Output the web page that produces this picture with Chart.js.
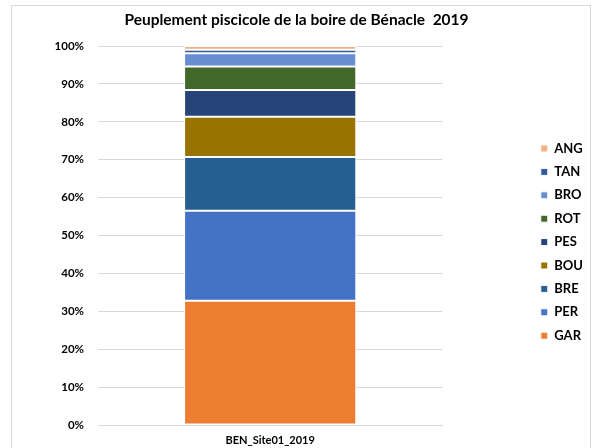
<!DOCTYPE html>
<html>
<head>
<meta charset="utf-8">
<script src="https://cdn.jsdelivr.net/npm/chart.js@4"></script>
<style>
  html, body { margin: 0; padding: 0; background: #fff; }
  #wrap { width: 593px; height: 448px; position: relative; }
</style>
</head>
<body>
<div id="wrap"><canvas id="chart"></canvas></div>
<script>
// données (en % du peuplement)
const stations = ['BEN_Site01_2019'];
const especes = ['GAR', 'PER', 'BRE', 'BOU', 'PES', 'ROT', 'BRO', 'TAN', 'ANG'];
const pourcentages = [32.8, 23.7, 14.2, 10.6, 7.1, 6.2, 3.5, 0.9, 1.0];
const couleurs = ['#ED7D31', '#4472C4', '#255E91', '#997300', '#264478', '#43682B', '#698ED0', '#335AA1', '#F4B183'];

const police = 'Lato, "Open Sans", sans-serif';

// cadre gris clair autour du graphique
const cadre = {
    id: 'cadre',
    beforeDraw(chart) {
        const ctx = chart.ctx;
        ctx.save();
        ctx.strokeStyle = '#d9d9d9';
        ctx.lineWidth = 1;
        ctx.strokeRect(11.5, 5.5, 579, 460);
        ctx.restore();
    }
};

const ctx = document.getElementById('chart');
new Chart(ctx, {
    type: 'bar',
    data: {
        labels: stations,
        datasets: especes.map((e, i) => ({
            label: e,
            data: [pourcentages[i]],
            backgroundColor: couleurs[i],
            borderColor: '#ffffff',
            borderWidth: 1,
            borderSkipped: false,
            barPercentage: 0.5,
            categoryPercentage: 1
        }))
    },
    options: {
        responsive: true,
        maintainAspectRatio: false,
        animation: false,
        layout: { padding: 0 },
        plugins: {
            title: {
                display: true,
                text: 'Peuplement piscicole de la boire de Bénacle  2019',
                color: '#000',
                font: { family: police, size: 15.5, weight: 'bold' },
                padding: { top: 11, bottom: 16.4 }
            },
            legend: {
                position: 'right',
                reverse: true,
                // titre vide pour descendre un peu les entrées
                title: { display: true, text: '', font: { size: 1 }, padding: { top: 35, bottom: 0 } },
                labels: {
                    color: '#000',
                    font: { family: police, size: 13, weight: 'bold' },
                    boxWidth: 7,
                    boxHeight: 7,
                    padding: 10.4
                }
            },
            tooltip: { enabled: false }
        },
        scales: {
            x: {
                stacked: true,
                grid: { display: false, drawTicks: false },
                border: { color: '#d9d9d9' },
                ticks: {
                    color: '#000',
                    padding: 9,
                    font: { family: police, size: 11, weight: 'bold' }
                },
                afterFit(s) { s.height = 23; }
            },
            y: {
                stacked: true,
                min: 0,
                max: 100,
                grid: { color: '#d9d9d9', drawTicks: false },
                border: { display: false },
                ticks: {
                    stepSize: 10,
                    color: '#000',
                    padding: 14,
                    font: { family: police, size: 11.5, weight: 'bold' },
                    callback: v => v + '%'
                },
                afterFit(s) { s.width = 98; }
            },
            droite: {
                type: 'linear',
                position: 'right',
                display: true,
                grid: { display: false },
                border: { display: false },
                ticks: { display: false },
                afterFit(s) { s.width = 88; }
            }
        }
    },
    plugins: [cadre]
});
</script>
</body>
</html>
